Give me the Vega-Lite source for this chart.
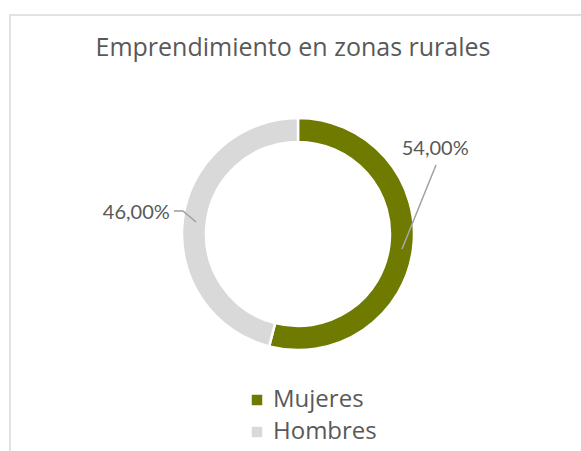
{
  "$schema": "https://vega.github.io/schema/vega-lite/v6.json",
  "width": 576,
  "height": 438,
  "autosize": {"type": "none"},
  "padding": {"left": 10, "top": 15, "right": -5, "bottom": -2},
  "background": "white",
  "title": {
    "text": "Emprendimiento en zonas rurales",
    "font": "Open Sans",
    "fontSize": 25,
    "fontWeight": "normal",
    "color": "#595959",
    "anchor": "middle",
    "baseline": "alphabetic",
    "offset": -66,
    "dx": -5
  },
  "config": {
    "view": {"stroke": "#D9D9D9", "strokeWidth": 1.5},
    "locale": {"number": {"decimal": ",", "thousands": ".", "grouping": [3], "currency": ["", " €"]}}
  },
  "data": {
    "values": [
      {"genero": "Mujeres", "valor": 0.54},
      {"genero": "Hombres", "valor": 0.46}
    ]
  },
  "layer": [
    {
      "mark": {"type": "arc", "outerRadius": 116, "innerRadius": 92, "stroke": "white", "strokeWidth": 2.5},
      "encoding": {
        "theta": {"field": "valor", "type": "quantitative", "stack": true},
        "color": {
          "field": "genero",
          "type": "nominal",
          "scale": {"domain": ["Mujeres", "Hombres"], "range": ["#6E7A00", "#D9D9D9"]},
          "legend": {
            "title": null,
            "orient": "none",
            "legendX": 235,
            "legendY": 373,
            "direction": "vertical",
            "symbolType": "square",
            "symbolSize": 110,
            "symbolStrokeWidth": 0,
            "labelFont": "Open Sans",
            "labelFontSize": 24,
            "labelColor": "#595959",
            "labelOffset": 4,
            "rowPadding": 8,
            "padding": 0
          }
        },
        "order": {"field": "genero", "sort": "descending"}
      }
    },
    {
      "mark": {"type": "text", "radius": 165, "dx": 2, "font": "Lato", "fontSize": 20, "color": "#595959", "align": "center", "baseline": "middle"},
      "encoding": {
        "theta": {"field": "valor", "type": "quantitative", "stack": true},
        "order": {"field": "genero", "sort": "descending"},
        "text": {"field": "valor", "type": "quantitative", "format": ".2%"},
        "opacity": {"condition": {"test": "datum.genero === 'Mujeres'", "value": 0}, "value": 1}
      }
    },
    {
      "mark": {"type": "text", "radius": 104, "dx": 34, "dy": -98, "font": "Lato", "fontSize": 20, "color": "#595959", "align": "center", "baseline": "middle"},
      "encoding": {
        "theta": {"field": "valor", "type": "quantitative", "stack": true},
        "order": {"field": "genero", "sort": "descending"},
        "text": {"field": "valor", "type": "quantitative", "format": ".2%"},
        "opacity": {"condition": {"test": "datum.genero === 'Hombres'", "value": 0}, "value": 1}
      }
    },
    {
      "mark": {"type": "rule", "color": "#A6A6A6", "strokeWidth": 1.2},
      "encoding": {
        "x": {"datum": 104, "type": "quantitative", "scale": {"domain": [-288, 288], "nice": false, "zero": false}, "axis": null},
        "y": {"datum": -15, "type": "quantitative", "scale": {"domain": [-219, 219], "nice": false, "zero": false}, "axis": null},
        "x2": {"datum": 138},
        "y2": {"datum": 69}
      }
    },
    {
      "mark": {"type": "rule", "color": "#A6A6A6", "strokeWidth": 1.2},
      "encoding": {
        "x": {"datum": -102, "type": "quantitative"},
        "y": {"datum": 12, "type": "quantitative"},
        "x2": {"datum": -115},
        "y2": {"datum": 23}
      }
    },
    {
      "mark": {"type": "rule", "color": "#A6A6A6", "strokeWidth": 1.2},
      "encoding": {
        "x": {"datum": -115, "type": "quantitative"},
        "y": {"datum": 23, "type": "quantitative"},
        "x2": {"datum": -124},
        "y2": {"datum": 23}
      }
    }
  ]
}
